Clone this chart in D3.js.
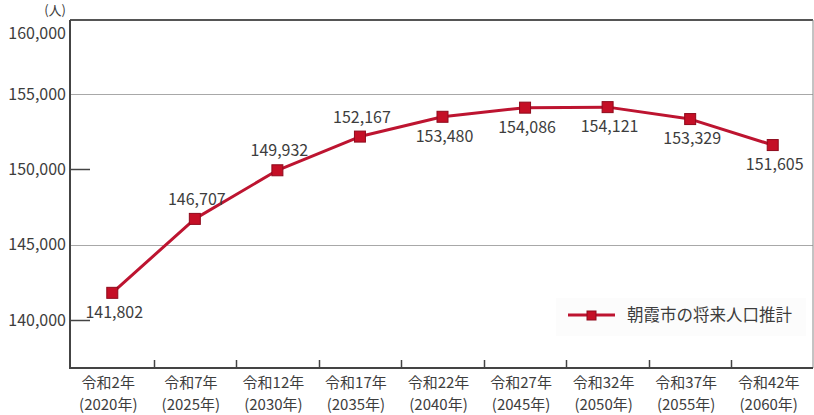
<!DOCTYPE html>
<html><head><meta charset="utf-8">
<script src="https://cdn.jsdelivr.net/npm/d3@7"></script>
<style>
html,body{margin:0;padding:0;background:#fff;}
svg{display:block;}
text{font-family:"Noto Sans CJK JP","Noto Sans",sans-serif;fill:#3d3d3d;}
</style></head>
<body>
<svg id="chart" width="814" height="415"></svg>
<script>
const eraLabels = ["令和2年","令和7年","令和12年","令和17年","令和22年","令和27年","令和32年","令和37年","令和42年"];
const yearLabels = ["(2020年)","(2025年)","(2030年)","(2035年)","(2040年)","(2045年)","(2050年)","(2055年)","(2060年)"];
const population = [141802,146707,149932,152167,153480,154086,154121,153329,151605];
const labelSide = ["below","above","above","above","below","below","below","below","below"];
const yTicks = [140000,145000,150000,155000,160000];
const gridTicks = [145000,155000];
const seriesName = "朝霞市の将来人口推計";
const unitLabel = "(人)";

(function(){
const svg = d3.select("#chart");
const pL = 70, pR = 813, pT = 20, pB = 368;
const lineColor = "#bd1430", markerFill = "#c50f26", markerStroke = "#8e0a1c";

const x = d3.scaleBand().domain(eraLabels).range([71, 814]).padding(0);
const y = d3.scaleLinear().domain([140000, 160000]).range([320, 18.5]);

// gridlines
svg.append("g").selectAll("line").data(gridTicks).join("line")
  .attr("x1", pL).attr("x2", pR)
  .attr("y1", d => Math.round(y(d)) + 0.5).attr("y2", d => Math.round(y(d)) + 0.5)
  .attr("stroke", "#a8a8a8").attr("stroke-width", 1.2);

// short ticks for non-grid values
svg.append("g").selectAll("line").data(yTicks.filter(t => !gridTicks.includes(t) && t !== 160000)).join("line")
  .attr("x1", pL).attr("x2", 90)
  .attr("y1", d => Math.round(y(d)) + 0.5).attr("y2", d => Math.round(y(d)) + 0.5)
  .attr("stroke", "#444").attr("stroke-width", 1.5);

// frame top & right
svg.append("line").attr("x1", pL).attr("x2", pR).attr("y1", pT).attr("y2", pT)
  .attr("stroke", "#555").attr("stroke-width", 2);
svg.append("line").attr("x1", pR).attr("x2", pR).attr("y1", pT).attr("y2", pB)
  .attr("stroke", "#888").attr("stroke-width", 1);

// y axis labels
const fmt = d3.format(",");
svg.append("g").selectAll("text").data(yTicks).join("text")
  .attr("x", 66)
  .attr("y", d => d === 160000 ? 33 : y(d))
  .attr("dy", "0.36em")
  .attr("text-anchor", "end")
  .attr("font-size", 16)
  .text(d => fmt(d));

svg.append("text").attr("x", 66).attr("y", 15).attr("text-anchor", "end")
  .attr("font-size", 13).text(unitLabel);

// x axis ticks at band boundaries
const bounds = eraLabels.slice(1).map(d => x(d));
svg.append("g").selectAll("line").data(bounds).join("line")
  .attr("x1", d => Math.round(d) + 0.5).attr("x2", d => Math.round(d) + 0.5)
  .attr("y1", pB).attr("y2", pB - 8)
  .attr("stroke", "#444").attr("stroke-width", 1.5);

// axes lines
svg.append("path").attr("d", `M${pL},${pT}V${pB}H${pR}`)
  .attr("fill", "none").attr("stroke", "#444").attr("stroke-width", 2);

// x labels (two lines in one text element)
const xl = svg.append("g").selectAll("text").data(eraLabels).join("text")
  .attr("text-anchor", "middle").attr("font-size", 15)
  .attr("transform", d => `translate(${x(d) + x.bandwidth()/2 - 4},0)`);
xl.append("tspan").attr("x", 0).attr("y", 388).text(d => d);
xl.append("tspan").attr("x", 0).attr("y", 410).text((d, i) => yearLabels[i]);

// line
const data = eraLabels.map((d, i) => ({cat: d, v: population[i], side: labelSide[i]}));
const cx = d => x(d.cat) + x.bandwidth()/2;
svg.append("path").datum(data)
  .attr("d", d3.line().x(cx).y(d => y(d.v)))
  .attr("fill", "none").attr("stroke", lineColor).attr("stroke-width", 3)
  .attr("stroke-linejoin", "round");

// markers
const ms = 11;
svg.append("g").selectAll("rect").data(data).join("rect")
  .attr("x", d => cx(d) - ms/2).attr("y", d => y(d.v) - ms/2)
  .attr("width", ms).attr("height", ms)
  .attr("fill", markerFill).attr("stroke", markerStroke).attr("stroke-width", 1);

// data labels
svg.append("g").selectAll("text").data(data).join("text")
  .attr("x", d => cx(d) + 2)
  .attr("y", d => d.side === "above" ? y(d.v) - 14 : y(d.v) + 25)
  .attr("text-anchor", "middle").attr("font-size", 16)
  .text(d => fmt(d.v));

// legend
const lg = svg.append("g");
lg.append("rect").attr("x", 556).attr("y", 298).attr("width", 250).attr("height", 38).attr("fill", "#fcfcfc");
lg.append("line").attr("x1", 568).attr("x2", 615).attr("y1", 315).attr("y2", 315)
  .attr("stroke", lineColor).attr("stroke-width", 3);
lg.append("rect").attr("x", 587).attr("y", 311).attr("width", 9).attr("height", 9)
  .attr("fill", markerFill).attr("stroke", markerStroke);
lg.append("text").attr("x", 627).attr("y", 321).attr("font-size", 16.5).text(seriesName);
})();
</script>
</body></html>
